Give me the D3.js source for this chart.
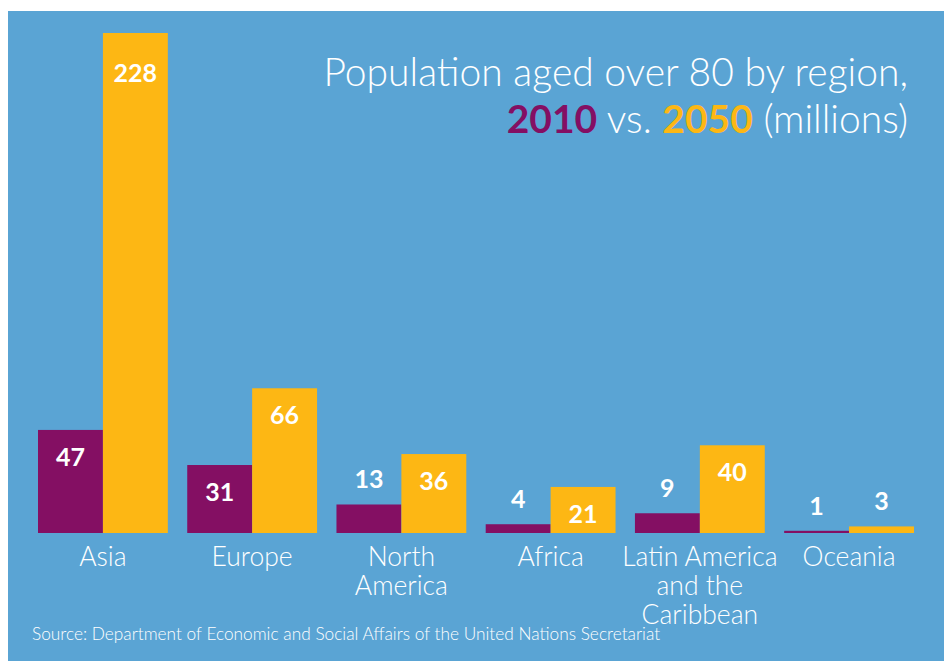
<!DOCTYPE html>
<html>
<head>
<meta charset="utf-8">
<script src="https://cdn.jsdelivr.net/npm/d3@7"></script>
<style>
  html, body { margin: 0; padding: 0; background: #fff; }
  svg { display: block; }
</style>
</head>
<body>
<div id="chart"></div>
<script>
// over-80 population chart, 2010 vs 2050, two bars per region

const regions = [
  ["Asia"],
  ["Europe"],
  ["North", "America"],
  ["Africa"],
  ["Latin America", "and the", "Caribbean"],
  ["Oceania"]
];
const pop2010 = [47, 31, 13, 4, 9, 1];
const pop2050 = [228, 66, 36, 21, 40, 3];
const years = ["2010", "2050"];

const W = 944, H = 661;
const BLUE = "#5aa4d4", PURPLE = "#840f63", YELLOW = "#fdb714";
const FONT = "Lato, 'Open Sans', sans-serif";

const svg = d3.select("#chart").append("svg")
  .attr("width", W)
  .attr("height", H);

// panel background, white strip at top and left
svg.append("rect")
  .attr("x", 8).attr("y", 11)
  .attr("width", W - 8).attr("height", H - 11)
  .attr("fill", BLUE);

const rows = regions.map((r, i) => ({ name: r, v: [pop2010[i], pop2050[i]] }));

const x = d3.scaleBand()
  .domain(d3.range(rows.length))
  .range([38, 914])
  .paddingInner(0.13)
  .paddingOuter(0);

const xIn = d3.scaleBand()
  .domain([0, 1])
  .range([0, x.bandwidth()]);

const y = d3.scaleLinear()
  .domain([0, 228])
  .range([533, 33]);

const colors = [PURPLE, YELLOW];

const groups = svg.selectAll("g.region")
  .data(rows)
  .join("g")
  .attr("class", "region")
  .attr("transform", (d, i) => `translate(${x(i)},0)`);

const bars = groups.selectAll("g.bar")
  .data(d => d.v.map((v, j) => ({ v, j })))
  .join("g")
  .attr("class", "bar");

bars.append("rect")
  .attr("x", d => xIn(d.j))
  .attr("y", d => y(d.v))
  .attr("width", xIn.bandwidth())
  .attr("height", d => y(0) - y(d.v))
  .attr("fill", d => colors[d.j]);

// value labels: inside when the bar is tall enough, else sitting above it
// (the tallest one sits a bit lower in the original)
bars.append("text")
  .attr("x", d => xIn(d.j) + xIn.bandwidth() / 2)
  .attr("y", d => {
    const h = y(0) - y(d.v);
    if (h > 300) return y(d.v) + 49;
    return h > 45 ? y(d.v) + 36 : y(d.v) - 16;
  })
  .attr("text-anchor", "middle")
  .attr("fill", "#fff")
  .attr("font-family", FONT)
  .attr("font-weight", 700)
  .attr("font-size", 25)
  .text(d => d.v);

// region names, multi-line
groups.append("text")
  .attr("x", x.bandwidth() / 2)
  .attr("y", 566)
  .attr("text-anchor", "middle")
  .attr("fill", "#fff")
  .attr("font-family", FONT)
  .attr("font-weight", 300)
  .attr("font-size", 26.5)
  .selectAll("tspan")
  .data(d => d.name)
  .join("tspan")
  .attr("x", x.bandwidth() / 2)
  .attr("dy", (d, i) => i === 0 ? 0 : 29)
  .text(d => d);

// title, right aligned
const title = svg.append("text")
  .attr("text-anchor", "end")
  .attr("fill", "#fff")
  .attr("font-family", FONT)
  .attr("font-weight", 300)
  .attr("font-size", 39);

title.append("tspan")
  .attr("x", 908).attr("y", 86)
  .text("Population aged over 80 by region,");

const l2 = title.append("tspan").attr("x", 908).attr("y", 133);
l2.append("tspan").attr("font-weight", 700).attr("fill", PURPLE).text(years[0]);
l2.append("tspan").text(" vs. ");
l2.append("tspan").attr("font-weight", 700).attr("fill", YELLOW).text(years[1]);
l2.append("tspan").text(" (millions)");

svg.append("text")
  .attr("x", 32)
  .attr("y", 640)
  .attr("fill", "#fff")
  .attr("font-family", FONT)
  .attr("font-weight", 300)
  .attr("font-size", 17.3)
  .text("Source: Department of Economic and Social Affairs of the United Nations Secretariat");
</script>
</body>
</html>
